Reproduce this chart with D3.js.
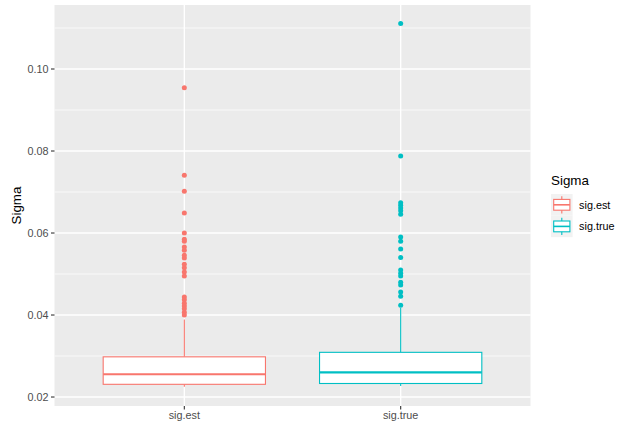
<!DOCTYPE html>
<html>
<head>
<meta charset="utf-8">
<script src="https://cdn.jsdelivr.net/npm/d3@7"></script>
<style>
  body { margin: 0; background: #fff; }
  text { font-family: "Liberation Sans", Arial, Helvetica, sans-serif; }
</style>
</head>
<body>
<div id="chart"></div>
<script>
// box stats
const categories = ["sig.est", "sig.true"];
const lowerWhisker = [0.0225, 0.0227];
const q1 = [0.0231, 0.0233];
const medians = [0.02555, 0.0260];
const q3 = [0.0298, 0.0309];
const upperWhisker = [0.0389, 0.0418];

const outliersEst = [0.0954, 0.0741, 0.0702, 0.0649, 0.0600, 0.0585, 0.0580, 0.0566,
  0.0558, 0.0546, 0.0539, 0.0524, 0.0515, 0.0505, 0.0495, 0.0444, 0.0437, 0.0429,
  0.0422, 0.0415, 0.0407, 0.0400];
const outliersTrue = [0.1111, 0.0788, 0.0674, 0.0668, 0.0661, 0.0654, 0.0646, 0.0590,
  0.0580, 0.0561, 0.0540, 0.0510, 0.0502, 0.0495, 0.0480, 0.0473, 0.0456, 0.0446, 0.0424];

const yTicks = [0.02, 0.04, 0.06, 0.08, 0.10];
const yMinor = [0.03, 0.05, 0.07, 0.09, 0.11];
const colors = ["#F8766D", "#00BFC4"];
const legendTitle = "Sigma";
const yTitle = "Sigma";

const width = 629, height = 430;
const panel = { left: 54.5, right: 530.5, top: 5, bottom: 406 };

const svg = d3.select("#chart").append("svg")
  .attr("width", width)
  .attr("height", height);

svg.append("rect").attr("width", width).attr("height", height).attr("fill", "#fff");

const y = d3.scaleLinear()
  .domain([0.01781, 0.11561])
  .range([panel.bottom, panel.top]);

const x = d3.scalePoint()
  .domain(categories)
  .range([panel.left, panel.right])
  .padding(0.6);

const boxW = x.step() * 0.75;

// panel background + grid
svg.append("rect")
  .attr("x", panel.left).attr("y", panel.top)
  .attr("width", panel.right - panel.left)
  .attr("height", panel.bottom - panel.top)
  .attr("fill", "#EBEBEB");

let grid = svg.append("g");
grid.selectAll(".minor").data(yMinor).join("line")
  .attr("x1", panel.left).attr("x2", panel.right)
  .attr("y1", d => y(d)).attr("y2", d => y(d))
  .attr("stroke", "#fff").attr("stroke-width", 0.7);
grid.selectAll(".major").data(yTicks).join("line")
  .attr("x1", panel.left).attr("x2", panel.right)
  .attr("y1", d => y(d)).attr("y2", d => y(d))
  .attr("stroke", "#fff").attr("stroke-width", 1.35);
grid.selectAll(".vmajor").data(categories).join("line")
  .attr("x1", d => x(d)).attr("x2", d => x(d))
  .attr("y1", panel.top).attr("y2", panel.bottom)
  .attr("stroke", "#fff").attr("stroke-width", 1.35);

// boxes
const boxes = categories.map((c, i) => ({
  cat: c, lo: lowerWhisker[i], q1: q1[i], med: medians[i], q3: q3[i], hi: upperWhisker[i],
  color: colors[i], out: i === 0 ? outliersEst : outliersTrue
}));

let bg = svg.append("g").selectAll("g").data(boxes).join("g");

bg.append("line")
  .attr("x1", d => x(d.cat)).attr("x2", d => x(d.cat))
  .attr("y1", d => y(d.q3)).attr("y2", d => y(d.hi))
  .attr("stroke", d => d.color).attr("stroke-width", 1.1);
bg.append("line")
  .attr("x1", d => x(d.cat)).attr("x2", d => x(d.cat))
  .attr("y1", d => y(d.q1)).attr("y2", d => y(d.lo))
  .attr("stroke", d => d.color).attr("stroke-width", 1.1);
bg.append("rect")
  .attr("x", d => x(d.cat) - boxW / 2)
  .attr("y", d => y(d.q3))
  .attr("width", boxW)
  .attr("height", d => y(d.q1) - y(d.q3))
  .attr("fill", "#fff")
  .attr("stroke", d => d.color).attr("stroke-width", 1.1);
bg.append("line")
  .attr("x1", d => x(d.cat) - boxW / 2).attr("x2", d => x(d.cat) + boxW / 2)
  .attr("y1", d => y(d.med)).attr("y2", d => y(d.med))
  .attr("stroke", d => d.color).attr("stroke-width", 2.2);
bg.selectAll("circle").data(d => d.out.map(v => ({ v, cat: d.cat, color: d.color }))).join("circle")
  .attr("cx", d => x(d.cat))
  .attr("cy", d => y(d.v))
  .attr("r", 2.5)
  .attr("fill", d => d.color);

// y axis
let yAxis = svg.append("g");
yAxis.selectAll("line").data(yTicks).join("line")
  .attr("x1", panel.left - 3.5).attr("x2", panel.left)
  .attr("y1", d => y(d)).attr("y2", d => y(d))
  .attr("stroke", "#333").attr("stroke-width", 1.1);
yAxis.selectAll("text").data(yTicks).join("text")
  .attr("x", panel.left - 6)
  .attr("y", d => y(d))
  .attr("dy", "0.36em")
  .attr("text-anchor", "end")
  .attr("font-size", 10.8)
  .attr("fill", "#4D4D4D")
  .text(d3.format(".2f"));

// x axis
let xAxis = svg.append("g");
xAxis.selectAll("line").data(categories).join("line")
  .attr("x1", d => x(d)).attr("x2", d => x(d))
  .attr("y1", panel.bottom).attr("y2", panel.bottom + 3.5)
  .attr("stroke", "#333").attr("stroke-width", 1.1);
xAxis.selectAll("text").data(categories).join("text")
  .attr("x", d => x(d))
  .attr("y", 419)
  .attr("text-anchor", "middle")
  .attr("font-size", 10.8)
  .attr("fill", "#4D4D4D")
  .text(d => d);

svg.append("text")
  .attr("transform", `translate(20.5,${(panel.top + panel.bottom) / 2}) rotate(-90)`)
  .attr("text-anchor", "middle")
  .attr("font-size", 13.4)
  .attr("fill", "#000")
  .text(yTitle);

// legend
const keySize = 21.6;
let legend = svg.append("g").attr("transform", "translate(551,194)");
legend.append("text")
  .attr("x", 0).attr("y", -9.5)
  .attr("font-size", 13.4)
  .attr("fill", "#000")
  .text(legendTitle);
let keys = legend.selectAll("g").data(boxes).join("g")
  .attr("transform", (d, i) => `translate(0,${i * keySize})`);
keys.append("rect")
  .attr("width", keySize).attr("height", keySize)
  .attr("fill", "#F2F2F2");
keys.append("line")
  .attr("x1", keySize / 2).attr("x2", keySize / 2)
  .attr("y1", keySize * 0.1).attr("y2", keySize * 0.9)
  .attr("stroke", d => d.color).attr("stroke-width", 1.1);
keys.append("rect")
  .attr("x", keySize * 0.125).attr("y", keySize * 0.25)
  .attr("width", keySize * 0.75).attr("height", keySize * 0.5)
  .attr("fill", "#fff")
  .attr("stroke", d => d.color).attr("stroke-width", 1.1);
keys.append("line")
  .attr("x1", keySize * 0.125).attr("x2", keySize * 0.875)
  .attr("y1", keySize / 2).attr("y2", keySize / 2)
  .attr("stroke", d => d.color).attr("stroke-width", 1.6);
keys.append("text")
  .attr("x", keySize + 6.5)
  .attr("y", keySize / 2)
  .attr("dy", "0.36em")
  .attr("font-size", 10.8)
  .attr("fill", "#000")
  .text(d => d.cat);
</script>
</body>
</html>
